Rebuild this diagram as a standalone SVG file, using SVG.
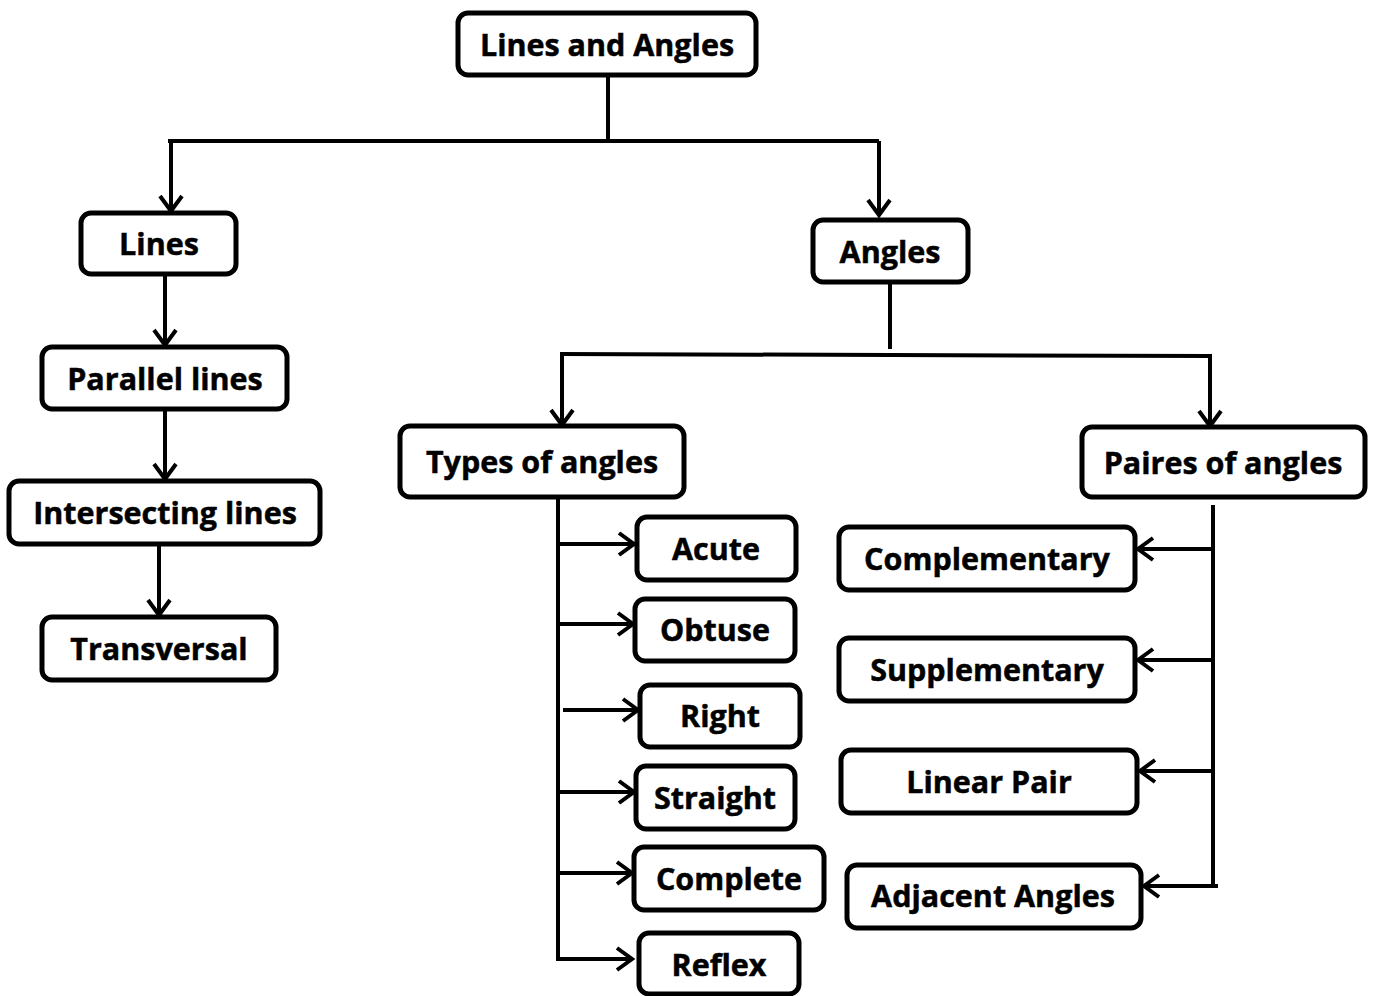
<svg xmlns="http://www.w3.org/2000/svg" width="1374" height="996" viewBox="0 0 1374 996">
  <defs>
    <style>
      .box { fill: #ffffff; stroke: #000000; stroke-width: 5; }
      .lbl { font-family: "Open Sans", "Liberation Sans", sans-serif; font-weight: bold; font-size: 30.5px; fill: #000000; stroke: #000000; stroke-width: 0.5; text-anchor: middle; }
      .wire { fill: none; stroke: #000000; stroke-width: 4; }
    </style>
    <!-- open V arrowhead -->
    <marker id="arrow" viewBox="0 0 24 26" refX="20" refY="13" markerWidth="24" markerHeight="26" markerUnits="userSpaceOnUse" orient="auto">
      <path d="M5,2 L20,13 L5,24" fill="none" stroke="#000000" stroke-width="4"/>
    </marker>
  </defs>
  <rect width="1374" height="996" fill="#ffffff"/>

  <g id="connectors">
    <!-- root split -->
    <path class="wire" d="M608,75 V141"/>
    <path class="wire" d="M168,141 H879"/>
    <path class="wire" d="M171,141 V211" marker-end="url(#arrow)"/>
    <path class="wire" d="M879,141 V215" marker-end="url(#arrow)"/>
    <!-- lines chain -->
    <path class="wire" d="M165,275 V345" marker-end="url(#arrow)"/>
    <path class="wire" d="M165,410 V479" marker-end="url(#arrow)"/>
    <path class="wire" d="M159,545 V615" marker-end="url(#arrow)"/>
    <!-- angles split -->
    <path class="wire" d="M890,282 V349"/>
    <path class="wire" d="M560,354 L1212,356"/>
    <path class="wire" d="M562,354 V425" marker-end="url(#arrow)"/>
    <path class="wire" d="M1210,356 V426" marker-end="url(#arrow)"/>
    <!-- types of angles -->
    <path class="wire" d="M558,497 V961"/>
    <path class="wire" d="M558,544 H634" marker-end="url(#arrow)"/>
    <path class="wire" d="M558,624 H633" marker-end="url(#arrow)"/>
    <path class="wire" d="M563,710 H638" marker-end="url(#arrow)"/>
    <path class="wire" d="M558,792 H634" marker-end="url(#arrow)"/>
    <path class="wire" d="M558,873 H632" marker-end="url(#arrow)"/>
    <path class="wire" d="M556,959 H632" marker-end="url(#arrow)"/>
    <!-- pairs of angles -->
    <path class="wire" d="M1213,505 V888"/>
    <path class="wire" d="M1213,549 H1138" marker-end="url(#arrow)"/>
    <path class="wire" d="M1213,660 H1138" marker-end="url(#arrow)"/>
    <path class="wire" d="M1213,771 H1140" marker-end="url(#arrow)"/>
    <path class="wire" d="M1218,886 H1144" marker-end="url(#arrow)"/>
  </g>

  <g id="node-root">
    <rect class="box" x="458" y="13" width="298" height="62" rx="10"/>
    <text class="lbl" x="607" y="56">Lines and Angles</text>
  </g>
  <g id="node-lines">
    <rect class="box" x="81" y="213" width="155" height="61" rx="10"/>
    <text class="lbl" x="159" y="255">Lines</text>
  </g>
  <g id="node-parallel">
    <rect class="box" x="42" y="347" width="245" height="62" rx="10"/>
    <text class="lbl" x="165" y="390">Parallel lines</text>
  </g>
  <g id="node-intersecting">
    <rect class="box" x="9" y="481" width="311" height="63" rx="10"/>
    <text class="lbl" x="165" y="524">Intersecting lines</text>
  </g>
  <g id="node-transversal">
    <rect class="box" x="42" y="617" width="234" height="63" rx="10"/>
    <text class="lbl" x="159" y="660">Transversal</text>
  </g>
  <g id="node-angles">
    <rect class="box" x="813" y="220" width="155" height="62" rx="10"/>
    <text class="lbl" x="890" y="263">Angles</text>
  </g>
  <g id="node-types">
    <rect class="box" x="400" y="426" width="284" height="71" rx="10"/>
    <text class="lbl" x="542" y="473">Types of angles</text>
  </g>
  <g id="node-pairs">
    <rect class="box" x="1082" y="427" width="283" height="70" rx="10"/>
    <text class="lbl" x="1223" y="474">Paires of angles</text>
  </g>
  <g id="node-acute">
    <rect class="box" x="637" y="517" width="159" height="63" rx="10"/>
    <text class="lbl" x="716" y="560">Acute</text>
  </g>
  <g id="node-obtuse">
    <rect class="box" x="635" y="599" width="160" height="62" rx="10"/>
    <text class="lbl" x="715" y="641">Obtuse</text>
  </g>
  <g id="node-right">
    <rect class="box" x="640" y="685" width="160" height="62" rx="10"/>
    <text class="lbl" x="720" y="727">Right</text>
  </g>
  <g id="node-straight">
    <rect class="box" x="636" y="766" width="159" height="63" rx="10"/>
    <text class="lbl" x="715" y="809">Straight</text>
  </g>
  <g id="node-complete">
    <rect class="box" x="634" y="847" width="190" height="63" rx="10"/>
    <text class="lbl" x="729" y="890">Complete</text>
  </g>
  <g id="node-reflex">
    <rect class="box" x="639" y="933" width="160" height="61" rx="10"/>
    <text class="lbl" x="719" y="976">Reflex</text>
  </g>
  <g id="node-complementary">
    <rect class="box" x="839" y="527" width="296" height="63" rx="10"/>
    <text class="lbl" x="987" y="570">Complementary</text>
  </g>
  <g id="node-supplementary">
    <rect class="box" x="839" y="638" width="296" height="63" rx="10"/>
    <text class="lbl" x="987" y="681">Supplementary</text>
  </g>
  <g id="node-linear">
    <rect class="box" x="841" y="750" width="296" height="63" rx="10"/>
    <text class="lbl" x="989" y="793">Linear Pair</text>
  </g>
  <g id="node-adjacent">
    <rect class="box" x="847" y="865" width="294" height="63" rx="10"/>
    <text class="lbl" x="993" y="907">Adjacent Angles</text>
  </g>
</svg>
